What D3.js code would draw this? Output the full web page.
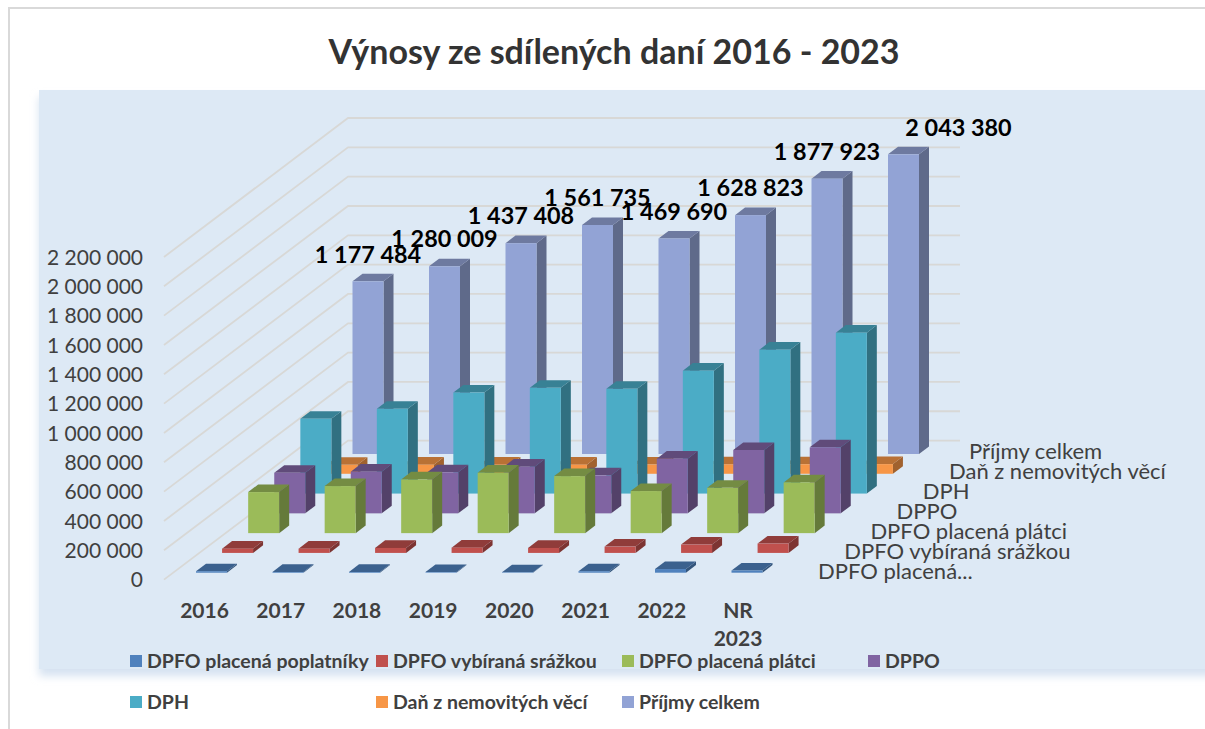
<!DOCTYPE html>
<html lang="cs">

<head>
    <meta charset="UTF-8">
    <script src="https://d3js.org/d3.v7.min.js"></script>
    <title>Výnosy ze sdílených daní 2016 - 2023</title>
    <style>
        html, body {
            margin: 0;
            background: white;
        }

        svg {
            display: block;
            font-family: Lato, sans-serif;
        }

        .axis path, .axis line {
            display: none;
        }

        .axis text {
            font-family: Lato, sans-serif;
        }
    </style>
</head>

<body>
    <div id="chart"></div>
    <script>

        const categories = ["2016", "2017", "2018", "2019", "2020", "2021", "2022", "NR 2023"]
        const series_names = ["DPFO placená poplatníky", "DPFO vybíraná srážkou", "DPFO placená plátci", "DPPO", "DPH", "Daň z nemovitých věcí", "Příjmy celkem"]
        const depth_labels = ["DPFO placená...", "DPFO vybíraná srážkou", "DPFO placená plátci", "DPPO", "DPH", "Daň z nemovitých věcí", "Příjmy celkem"]
        const series_colors = ["#4f81bd", "#c0504d", "#9bbb59", "#8064a2", "#4bacc6", "#f79646", "#92a3d5"]

        const dpfo_poplatnici = [10000, 5000, 5000, 4000, 3000, 10000, 25000, 15000]
        const dpfo_srazkou = [29000, 29000, 34000, 36000, 34000, 43000, 57000, 64000]
        const dpfo_platci = [280000, 321000, 366000, 412000, 389000, 287000, 309000, 346000]
        const dppo = [277000, 284000, 280000, 318000, 259000, 373000, 432000, 450000]
        const dph = [510000, 578000, 689000, 721000, 714000, 838000, 981000, 1097000]
        const dan_nemovitosti = [61000, 62000, 62000, 62000, 63000, 64000, 65000, 66000]
        const prijmy_celkem = [1177484, 1280009, 1437408, 1561735, 1469690, 1628823, 1877923, 2043380]

        const all_series = [dpfo_poplatnici, dpfo_srazkou, dpfo_platci, dppo, dph, dan_nemovitosti, prijmy_celkem]
        const y_ticks = d3.range(0, 2200001, 200000)

        const width = 1205
        const height = 729
        const bar_width = 31
        const depth_dx = 10
        const depth_dy = 7.6
        const wall_dx = 184
        const wall_dy = 139

        const fmt = d3.formatLocale({ decimal: ",", thousands: " ", grouping: [3], currency: ["", ""] }).format(",")

        // value -> y on the back wall, gridlines start from here
        const wall_y = d3.scaleLinear().domain([0, 2200000]).range([440.6, 118])
        const px_per_unit = (wall_y(0) - wall_y(1))

        // categories run to the right, series run into the picture
        const cat_x = d3.scalePoint().domain(categories).range([0, 535.5])
        const series_x = d3.scalePoint().domain(series_names).range([196, 352.5])
        const series_y = d3.scalePoint().domain(series_names).range([572.7, 454])

        const svg = d3.select("#chart").append("svg")
            .attr("width", width)
            .attr("height", height)

        const defs = svg.append("defs")
        defs.append("filter").attr("id", "soft")
            .attr("x", "-5%").attr("y", "-5%").attr("width", "110%").attr("height", "110%")
            .append("feGaussianBlur").attr("stdDeviation", 4)

        // outer border, only top and left are in the picture
        svg.append("path")
            .attr("d", d3.line()([[width, 8], [9, 8], [9, height]]))
            .attr("fill", "none")
            .attr("stroke", "#d9d9d9")
            .attr("stroke-width", 2)

        svg.append("text")
            .attr("x", 614)
            .attr("y", 64)
            .attr("text-anchor", "middle")
            .attr("font-size", 34)
            .attr("font-weight", 700)
            .attr("fill", "#333333")
            .text("Výnosy ze sdílených daní 2016 - 2023")

        // plot background with its soft edge
        svg.append("rect")
            .attr("x", 39).attr("y", 97).attr("width", 1300).attr("height", 579)
            .attr("fill", "#d5e2f1")
            .attr("filter", "url(#soft)")
        svg.append("rect")
            .attr("x", 39).attr("y", 90).attr("width", 1180).attr("height", 579)
            .attr("fill", "#dde9f5")

        // gridlines, side wall then back wall
        svg.append("g").selectAll("path")
            .data(y_ticks)
            .enter()
            .append("path")
            .attr("d", d => d3.line()([[348 - wall_dx, wall_y(d) + wall_dy], [348, wall_y(d)], [960, wall_y(d)]]))
            .attr("fill", "none")
            .attr("stroke", "#d8d8d6")
            .attr("stroke-width", 1.8)

        // bars, back row first so the front rows cover it
        const bars = d3.range(series_names.length).reverse().flatMap(s =>
            categories.map((c, i) => ({ s: s, cat: c, value: all_series[s][i] })))

        const bar_g = svg.append("g").selectAll("g")
            .data(bars)
            .enter()
            .append("g")
            .attr("transform", d => `translate(${series_x(series_names[d.s]) + cat_x(d.cat)},${series_y(series_names[d.s])})`)

        const shade = (d, k) => {
            const c = d3.rgb(series_colors[d.s])
            return d3.rgb(c.r * k, c.g * k, c.b * k).formatHex()
        }

        bar_g.append("path")
            .attr("d", d => {
                const h = d.value * px_per_unit
                return d3.line()([[bar_width, 0], [bar_width + depth_dx, -depth_dy], [bar_width + depth_dx, -h - depth_dy], [bar_width, -h]]) + "Z"
            })
            .attr("fill", d => shade(d, 0.65))

        bar_g.append("path")
            .attr("d", d => {
                const h = d.value * px_per_unit
                return d3.line()([[0, -h], [depth_dx, -h - depth_dy], [bar_width + depth_dx, -h - depth_dy], [bar_width, -h]]) + "Z"
            })
            .attr("fill", d => shade(d, 0.75))

        bar_g.append("rect")
            .attr("x", 0)
            .attr("y", d => -d.value * px_per_unit)
            .attr("width", bar_width)
            .attr("height", d => d.value * px_per_unit)
            .attr("fill", d => series_colors[d.s])

        // value labels on the total series, the last one sits off to the right
        svg.append("g").selectAll("text")
            .data(prijmy_celkem)
            .enter()
            .append("text")
            .attr("x", (d, i) => series_x(series_names[6]) + cat_x(categories[i]) + 15.5 + (i === 7 ? 55 : 0))
            .attr("y", d => series_y(series_names[6]) - d * px_per_unit - 27)
            .attr("dy", "0.35em")
            .attr("text-anchor", "middle")
            .attr("font-size", 23.4)
            .attr("font-weight", 700)
            .attr("fill", "black")
            .text(d => fmt(d))

        // value axis on the front edge of the side wall
        svg.append("g")
            .attr("class", "axis")
            .attr("transform", `translate(143,${wall_dy + 0.5})`)
            .call(d3.axisLeft(wall_y).tickValues(y_ticks).tickSize(0).tickPadding(0).tickFormat(fmt))
            .selectAll("text")
            .attr("font-size", 21)
            .attr("fill", "#404040")

        // category axis
        const cat_axis = svg.append("g")
            .attr("class", "axis")
            .attr("transform", "translate(204,603)")
            .call(d3.axisBottom(cat_x.copy().range([0, 533.5])).tickSize(0).tickPadding(0))

        cat_axis.selectAll("text")
            .attr("font-size", 21)
            .attr("font-weight", 700)
            .attr("fill", "#404040")
            .each(function (d) {
                const parts = d.split(" ")
                const t = d3.select(this).text(null)
                parts.forEach((p, i) => t.append("tspan")
                    .attr("x", 0)
                    .attr("dy", i === 0 ? "0.71em" : "1.35em")
                    .text(p))
            })

        // series labels along the depth axis
        const depth_label_x = d3.scalePoint().domain(series_names.slice(0, 6)).range([818, 949])
        const depth_label_y = d3.scalePoint().domain(series_names).range([571, 451])

        svg.append("g").selectAll("text")
            .data(series_names)
            .enter()
            .append("text")
            .attr("x", d => d === series_names[6] ? 969 : depth_label_x(d))
            .attr("y", d => depth_label_y(d))
            .attr("dy", "0.35em")
            .attr("font-size", 22)
            .attr("fill", "#404040")
            .text((d, i) => depth_labels[i])

        // legend, four columns on two rows
        const legend_col = d3.scalePoint().domain([0, 1, 2, 3]).range([130, 868])
        const legend_row = d3.scalePoint().domain([0, 1]).range([661, 702])

        const legend = svg.append("g").selectAll("g")
            .data(series_names)
            .enter()
            .append("g")
            .attr("transform", (d, i) => `translate(${legend_col(i % 4)},${legend_row(Math.floor(i / 4))})`)

        legend.append("rect")
            .attr("y", -6)
            .attr("width", 12)
            .attr("height", 12)
            .attr("fill", (d, i) => series_colors[i])

        legend.append("text")
            .attr("x", 17)
            .attr("dy", "0.35em")
            .attr("font-size", 19.5)
            .attr("font-weight", 700)
            .attr("fill", "#404040")
            .text(d => d)

    </script>
</body>

</html>
